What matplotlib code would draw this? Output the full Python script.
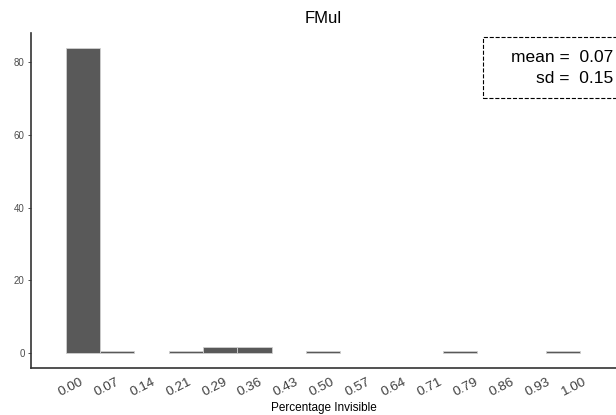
import matplotlib
matplotlib.use("Agg")
import matplotlib.pyplot as plt
from matplotlib.patches import Rectangle
import numpy as np

plt.rcParams['font.family'] = ['Liberation Sans', 'DejaVu Sans']

# histogram bins (centres) and counts
bin_centers = [i / 14 for i in range(15)]
counts = [84, 0.55, 0, 0.55, 1.8, 1.8, 0, 0.55, 0, 0, 0, 0.55, 0, 0, 0.55]
tick_labels = ['0.00', '0.07', '0.14', '0.21', '0.29', '0.36', '0.43', '0.50',
               '0.57', '0.64', '0.71', '0.79', '0.86', '0.93', '1.00']
y_ticks = [0, 20, 40, 60, 80]
mean_txt = '0.07'
sd_txt = '0.15'

fig = plt.figure(figsize=(6.16, 4.15), dpi=100)
ax = fig.add_axes([0.0503, 0.1133, 0.9497, 0.8072])

x = np.array(bin_centers)
h = np.array(counts)
keep = h > 0
ax.bar(x[keep], h[keep], width=1 / 14, color='#595959',
       edgecolor='#d0d0d0', linewidth=0.6)

ax.set_xlim(-0.108, 1.11)
ax.set_ylim(-4.1, 88)

# the labels in the original sit on a slightly wider grid than the bars
label_pos = np.linspace(-0.025, 1.021, len(tick_labels))
ax.set_xticks(label_pos)
ax.set_xticklabels(tick_labels, rotation=27, ha='center', va='top',
                   fontsize=9.7, color='#404040')
ax.tick_params(axis='x', length=0, pad=5.5)

ax.set_yticks(y_ticks)
ax.set_yticklabels([str(v) for v in y_ticks], fontsize=7, color='#4d4d4d')
ax.tick_params(axis='y', length=2.5, width=0.6, color='#333333', pad=2)

for side in ['top', 'right']:
    ax.spines[side].set_visible(False)
for side in ['left', 'bottom']:
    ax.spines[side].set_color('#333333')
    ax.spines[side].set_linewidth(1.2)

ax.set_title('FMul', fontsize=12, pad=7)
ax.set_xlabel('Percentage Invisible', fontsize=8.5, va='center')
ax.xaxis.set_label_coords(0.5, -0.119)

# stats box (runs off the right edge like the original)
fig.patches.append(Rectangle((483 / 616, 1 - 98 / 415), 140 / 616, 61 / 415,
                             transform=fig.transFigure, fill=False,
                             edgecolor='black', linestyle='--', linewidth=0.8))
fig.text(613 / 616, 1 - 68 / 415, 'mean =  ' + mean_txt + '\nsd =  ' + sd_txt,
         ha='right', va='center', multialignment='right', fontsize=12.5,
         linespacing=1.5)

fig.savefig('out.png', dpi=100)
